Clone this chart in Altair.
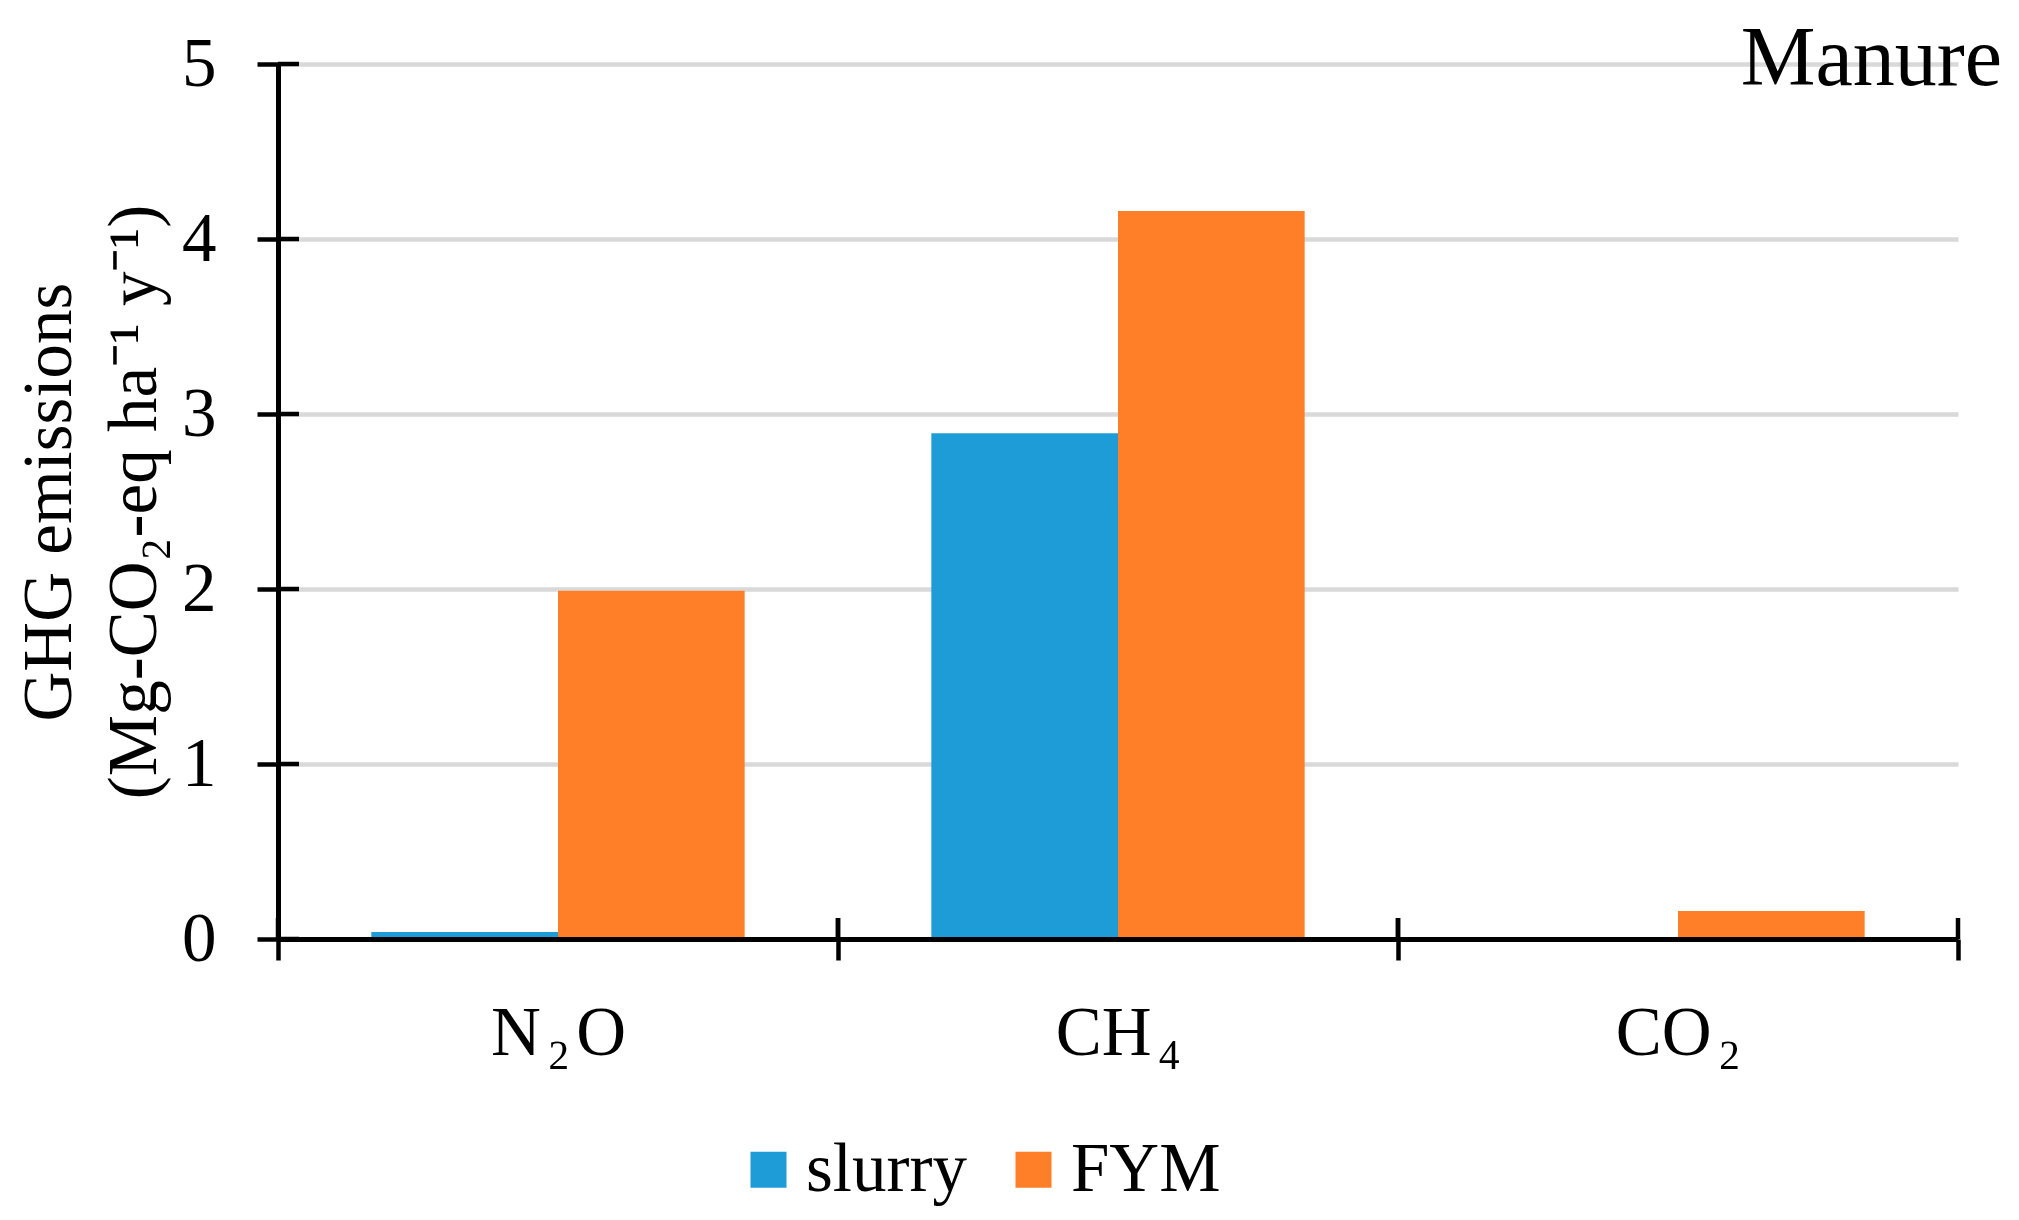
import altair as alt
import pandas as pd

# ---- data ----
gases = ["N\u200a\u2082\u200aO", "CH\u200a\u2084", "CO\u200a\u2082"]
series = ["slurry", "FYM"]
slurry = [0.04, 2.89, 0.0]
fym = [1.99, 4.16, 0.16]
y_ticks = [0, 1, 2, 3, 4, 5]
colors = ["#1E9CD8", "#FE7F28"]
y_title = ["GHG emissions", "(Mg-CO\u2082-eq ha\u207b\u00b9 y\u207b\u00b9)"]
panel_label = "Manure"

rows = []
for g, s, f in zip(gases, slurry, fym):
    rows.append({"gas": g, "series": "slurry", "value": s})
    rows.append({"gas": g, "series": "FYM", "value": f})
df = pd.DataFrame(rows)
gdf = pd.DataFrame({"gas": gases})
tdf = pd.DataFrame({"value": y_ticks})

W, H = 1680, 875
FONT = "Liberation Serif"
FS = 69
TICK = 21

x_axis = alt.Axis(
    title=None,
    tickBand="extent",
    labelAngle=0,
    labelPadding=39,
    grid=False,
    zindex=1,
)
y_axis = alt.Axis(
    title=y_title,
    values=y_ticks,
    format="d",
    grid=True,
    labelPadding=41,
    titleLineHeight=85,
    titleAngle=270,
    titleX=-229,
    titleY=H / 2,
    titleAlign="center",
    titleBaseline="middle",
)
x_scale = alt.Scale(paddingInner=0, paddingOuter=0)
y_scale = alt.Scale(domain=[0, 5], nice=False)

bars = alt.Chart(df).mark_bar().encode(
    x=alt.X("gas:N", sort=gases, scale=x_scale, axis=x_axis),
    xOffset=alt.XOffset(
        "series:N", sort=series, scale=alt.Scale(paddingInner=0, paddingOuter=0.5)
    ),
    y=alt.Y("value:Q", scale=y_scale, axis=y_axis),
    color=alt.Color(
        "series:N",
        sort=series,
        scale=alt.Scale(domain=series, range=colors),
        legend=alt.Legend(
            title=None,
            orient="none",
            legendX=456,
            legendY=1071,
            direction="horizontal",
            symbolType="square",
            symbolSize=1296,
            symbolStrokeWidth=0,
            symbolOpacity=1,
            labelFont=FONT,
            labelFontSize=FS,
            labelColor="black",
            labelOffset=3,
            columnPadding=32,
            padding=0,
            labelLimit=0,
        ),
    ),
)

# inward halves of the y ticks
y_in = alt.Chart(tdf).mark_rule(color="black", strokeWidth=4.5).encode(
    y=alt.Y("value:Q", scale=y_scale, axis=y_axis),
    x=alt.value(0),
    x2=alt.value(TICK),
)

# inward halves of the x (category boundary) ticks
x_in0 = alt.Chart(gdf).mark_rule(color="black", strokeWidth=4.5).encode(
    x=alt.X("gas:N", sort=gases, scale=x_scale, axis=x_axis, bandPosition=0),
    y=alt.value(H - TICK),
    y2=alt.value(H),
)
x_in1 = alt.Chart(gdf).mark_rule(color="black", strokeWidth=4.5).encode(
    x=alt.X("gas:N", sort=gases, scale=x_scale, axis=x_axis, bandPosition=1),
    y=alt.value(H - TICK),
    y2=alt.value(H),
)

label = alt.Chart(pd.DataFrame({"label": [panel_label]})).mark_text(
    align="right", baseline="alphabetic", font=FONT, fontSize=84, color="black"
).encode(text="label:N", x=alt.value(W + 44), y=alt.value(21))

chart = (
    alt.layer(bars, y_in, x_in0, x_in1, label)
    .properties(
        width=W,
        height=H,
        autosize=alt.AutoSizeParams(type="none"),
        padding={"left": 270, "top": 56, "right": 53, "bottom": 273},
        background="white",
    )
    .configure_view(stroke=None)
    .configure_axis(
        domain=True,
        domainColor="black",
        domainWidth=5,
        ticks=True,
        tickColor="black",
        tickWidth=4.5,
        tickSize=TICK,
        gridColor="#D9D9D9",
        gridWidth=4.7,
        labelFont=FONT,
        labelFontSize=FS,
        labelColor="black",
        titleFont=FONT,
        titleFontSize=FS,
        titleFontWeight="normal",
        titleColor="black",
    )
)

chart.save("out.html", embed_options={"renderer": "svg", "actions": False})
